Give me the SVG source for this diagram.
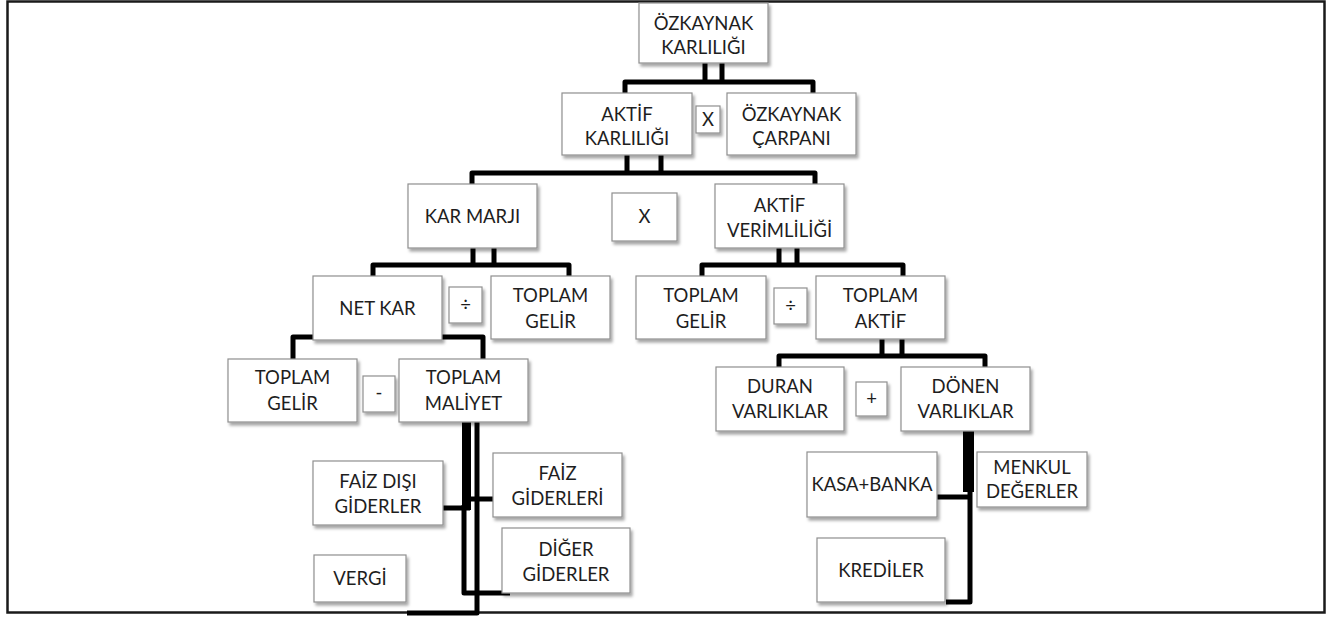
<svg xmlns="http://www.w3.org/2000/svg" width="1327" height="617" viewBox="0 0 1327 617">
<defs>
<filter id="sh" x="-10%" y="-10%" width="130%" height="140%">
<feDropShadow dx="2" dy="3" stdDeviation="1.5" flood-color="#000" flood-opacity="0.35"/>
</filter>
<style>
.b{fill:#fff;stroke:#8f8f8f;stroke-width:1.2;filter:url(#sh)}
.t{font-family:Lato,"Liberation Sans",sans-serif;font-size:18.5px;fill:#1e1e1e;text-anchor:middle}
.c{fill:none;stroke:#000;stroke-width:5;stroke-linejoin:round}
.k{fill:#000}
</style>
</defs>
<rect x="0" y="0" width="1327" height="617" fill="#fff"/>
<rect x="7.5" y="1.5" width="1317" height="611" fill="#fff" stroke="#1a1a1a" stroke-width="2.5"/>
<g id="connectors">
<path class="c" d="M705 63V82M722 63V82M625 93V82H813V93"/>
<path class="c" d="M627 155V173M661 155V173M472 184V173H815V184"/>
<path class="c" d="M473 248V265M494 248V265M373 276V265H569V276"/>
<path class="c" d="M779 248V265M797 248V265M702 276V265H903V276"/>
<path class="c" d="M293 359V337H483V359"/>
<path class="c" d="M882 339V356M902 339V356M779 367V356H985V367"/>
<rect class="k" x="462" y="422" width="9" height="88"/>
<path class="c" d="M443 508H470"/>
<path class="c" d="M464 505V593H510"/>
<path class="c" d="M477 422V613H407"/>
<path class="c" d="M470 499H493"/>
<rect class="k" x="963" y="431" width="11" height="61"/>
<path class="c" d="M937 497H970"/>
<path class="c" d="M970 490V602H946"/>
</g>
<g id="n-ozkaynak-karliligi"><rect class="b" x="639" y="3" width="129" height="60"/><text class="t" x="703.5" y="30">ÖZKAYNAK</text><text class="t" x="703.5" y="54">KARLILIĞI</text></g>
<g id="n-aktif-karliligi"><rect class="b" x="562" y="93" width="130" height="62"/><text class="t" x="627" y="121">AKTİF</text><text class="t" x="627" y="145">KARLILIĞI</text></g>
<g id="op-x1"><rect class="b" x="696" y="106" width="24" height="27"/><text class="t" x="708" y="126">X</text></g>
<g id="n-ozkaynak-carpani"><rect class="b" x="727" y="93" width="129" height="62"/><text class="t" x="791.5" y="121">ÖZKAYNAK</text><text class="t" x="791.5" y="145">ÇARPANI</text></g>
<g id="n-kar-marji"><rect class="b" x="408" y="184" width="129" height="64"/><text class="t" x="472.5" y="223">KAR MARJI</text></g>
<g id="op-x2"><rect class="b" x="612" y="193" width="65" height="48"/><text class="t" x="644.5" y="223">X</text></g>
<g id="n-aktif-verimliligi"><rect class="b" x="715" y="184" width="129" height="64"/><text class="t" x="779.5" y="212">AKTİF</text><text class="t" x="779.5" y="237">VERİMLİLİĞİ</text></g>
<g id="n-net-kar"><rect class="b" x="313" y="276" width="129" height="64"/><text class="t" x="377.5" y="315">NET KAR</text></g>
<g id="op-div1"><rect class="b" x="449" y="287" width="33" height="36"/><text class="t" x="465.5" y="311">÷</text></g>
<g id="n-toplam-gelir-1"><rect class="b" x="491" y="276" width="119" height="63"/><text class="t" x="550.5" y="302">TOPLAM</text><text class="t" x="550.5" y="328">GELİR</text></g>
<g id="n-toplam-gelir-2"><rect class="b" x="636" y="276" width="130" height="63"/><text class="t" x="701" y="302">TOPLAM</text><text class="t" x="701" y="328">GELİR</text></g>
<g id="op-div2"><rect class="b" x="774" y="288" width="33" height="36"/><text class="t" x="790.5" y="312">÷</text></g>
<g id="n-toplam-aktif"><rect class="b" x="816" y="276" width="129" height="63"/><text class="t" x="880.5" y="302">TOPLAM</text><text class="t" x="880.5" y="328">AKTİF</text></g>
<g id="n-toplam-gelir-3"><rect class="b" x="228" y="359" width="129" height="63"/><text class="t" x="292.5" y="384">TOPLAM</text><text class="t" x="292.5" y="410">GELİR</text></g>
<g id="op-minus"><rect class="b" x="363" y="376" width="32" height="36"/><text class="t" x="379" y="399">-</text></g>
<g id="n-toplam-maliyet"><rect class="b" x="399" y="359" width="129" height="63"/><text class="t" x="463.5" y="384">TOPLAM</text><text class="t" x="463.5" y="410">MALİYET</text></g>
<g id="n-duran-varliklar"><rect class="b" x="716" y="367" width="128" height="64"/><text class="t" x="780" y="393">DURAN</text><text class="t" x="780" y="418">VARLIKLAR</text></g>
<g id="op-plus"><rect class="b" x="856" y="382" width="31" height="34"/><text class="t" x="871.5" y="405">+</text></g>
<g id="n-donen-varliklar"><rect class="b" x="901" y="367" width="129" height="64"/><text class="t" x="965.5" y="393">DÖNEN</text><text class="t" x="965.5" y="418">VARLIKLAR</text></g>
<g id="n-faiz-disi-giderler"><rect class="b" x="313" y="461" width="130" height="64"/><text class="t" x="378" y="488">FAİZ DIŞI</text><text class="t" x="378" y="513">GİDERLER</text></g>
<g id="n-faiz-giderleri"><rect class="b" x="493" y="453" width="129" height="64"/><text class="t" x="557.5" y="480">FAİZ</text><text class="t" x="557.5" y="505">GİDERLERİ</text></g>
<g id="n-diger-giderler"><rect class="b" x="502" y="528" width="128" height="65"/><text class="t" x="566" y="556">DİĞER</text><text class="t" x="566" y="581">GİDERLER</text></g>
<g id="n-vergi"><rect class="b" x="314" y="555" width="92" height="47"/><text class="t" x="360" y="585">VERGİ</text></g>
<g id="n-kasa-banka"><rect class="b" x="807" y="452" width="130" height="65"/><text class="t" x="872" y="491">KASA+BANKA</text></g>
<g id="n-menkul-degerler"><rect class="b" x="977" y="452" width="110" height="55"/><text class="t" x="1032" y="474">MENKUL</text><text class="t" x="1032" y="498">DEĞERLER</text></g>
<g id="n-krediler"><rect class="b" x="817" y="538" width="128" height="64"/><text class="t" x="881" y="577">KREDİLER</text></g>
</svg>
